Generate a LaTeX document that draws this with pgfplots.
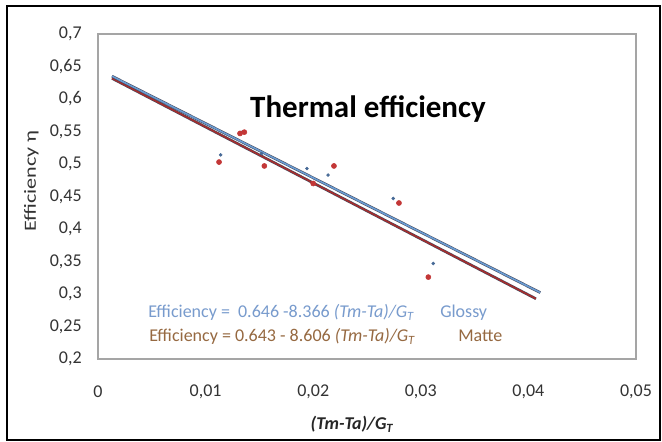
\documentclass[border=0pt]{standalone}
\usepackage{graphicx}
\usepackage{pgfplots}
\pgfplotsset{compat=1.18}
\usepackage{pgfplotstable}
\usepackage{fontspec}
\setmainfont{Carlito}

\definecolor{glossyline}{RGB}{105,155,210}
\definecolor{matteline}{RGB}{165,45,45}
\definecolor{glossydot}{RGB}{70,105,150}
\definecolor{mattedot}{RGB}{195,55,55}
\definecolor{glossytext}{RGB}{120,155,205}
\definecolor{mattetext}{RGB}{150,105,65}
\definecolor{boxgray}{RGB}{165,165,165}
\definecolor{edge}{RGB}{70,75,95}

% measured efficiency, glossy absorber
\pgfplotstableread{
x y
0.01140 0.514
0.01340 0.549
0.01521 0.516
0.01942 0.493
0.02138 0.483
0.02744 0.447
0.03116 0.347
}\glossy

% measured efficiency, matte absorber
\pgfplotstableread{
x y
0.01125 0.503
0.01320 0.547
0.01360 0.549
0.01546 0.497
0.02000 0.470
0.02193 0.497
0.02797 0.440
0.03070 0.326
}\matte

% linear fits: 0.646 - 8.366 x and 0.643 - 8.606 x
\pgfplotstableread{
x y
0.0013 0.6351
0.0411 0.3022
}\glossyfit
\pgfplotstableread{
x y
0.0013 0.6318
0.0407 0.2927
}\mattefit

\begin{document}
\begin{tikzpicture}[x=0.75pt,y=-0.75pt]
\fill[white] (0,0) rectangle (662,442);
\draw[black, line width=1.6pt] (7,6) rectangle (660,440);
\coordinate (org) at (98,359);
\begin{axis}[
  at={(org)}, anchor=south west,
  scale only axis, width=403.5pt, height=243.75pt,
  xmin=0, xmax=0.05, ymin=0.2, ymax=0.7,
  scaled x ticks=false, scaled y ticks=false,
  axis line style={boxgray, line width=1.3pt},
  major tick length=0pt,
  xtick={0,0.01,0.02,0.03,0.04,0.05},
  xticklabels={0,{0,01},{0,02},{0,03},{0,04},{0,05}},
  ytick={0.2,0.25,0.3,0.35,0.4,0.45,0.5,0.55,0.6,0.65,0.7},
  yticklabels={{0,2},{0,25},{0,3},{0,35},{0,4},{0,45},{0,5},{0,55},{0,6},{0,65},{0,7}},
  ticklabel style={font=\fontsize{13.5}{16}\selectfont, text=black!80},
  yticklabel style={anchor=east, inner sep=0pt, xshift=-12pt},
  xticklabel style={anchor=center, inner sep=0pt, yshift=-24.75pt},
  clip=false,
]
\addplot[no marks, edge, line width=2.0pt] table {\mattefit};
\addplot[no marks, matteline, line width=1.2pt] table {\mattefit};
\addplot[no marks, edge, line width=2.0pt] table {\glossyfit};
\addplot[no marks, glossyline, line width=1.2pt] table {\glossyfit};
\addplot[only marks, mark=*, mark size=1.1pt, glossydot] table {\glossy};
\addplot[only marks, mark=*, mark size=1.9pt, mattedot] table {\matte};
\end{axis}

\node[anchor=base, inner sep=0pt, font=\bfseries\fontsize{23.25}{28}\selectfont] at (368,118) {Thermal efficiency};

\node[anchor=base west, inner sep=0pt, text=glossytext, font=\fontsize{13.5}{16}\selectfont] at (148,318)
  {Efficiency =\ \ 0.646 -8.366 \textit{(Tm-Ta)/G\textsubscript{T}}};
\node[anchor=base west, inner sep=0pt, text=glossytext, font=\fontsize{13.5}{16}\selectfont] at (440,318) {Glossy};
\node[anchor=base west, inner sep=0pt, text=mattetext, font=\fontsize{13.5}{16}\selectfont] at (149,342)
  {Efficiency = 0.643 - 8.606 \textit{(Tm-Ta)/G\textsubscript{T}}};
\node[anchor=base west, inner sep=0pt, text=mattetext, font=\fontsize{13.5}{16}\selectfont] at (458,342) {Matte};

\node[rotate=90, anchor=base, inner sep=0pt, text=black!80, font=\fontsize{12.75}{15}\selectfont] at (36,181)
  {\scalebox{1.3}[1]{Efficiency η}};
\node[anchor=base, inner sep=0pt, text=black!85, font=\bfseries\itshape\fontsize{13.5}{16}\selectfont] at (352,430)
  {(Tm-Ta)/G\textsubscript{T}};
\end{tikzpicture}
\end{document}
